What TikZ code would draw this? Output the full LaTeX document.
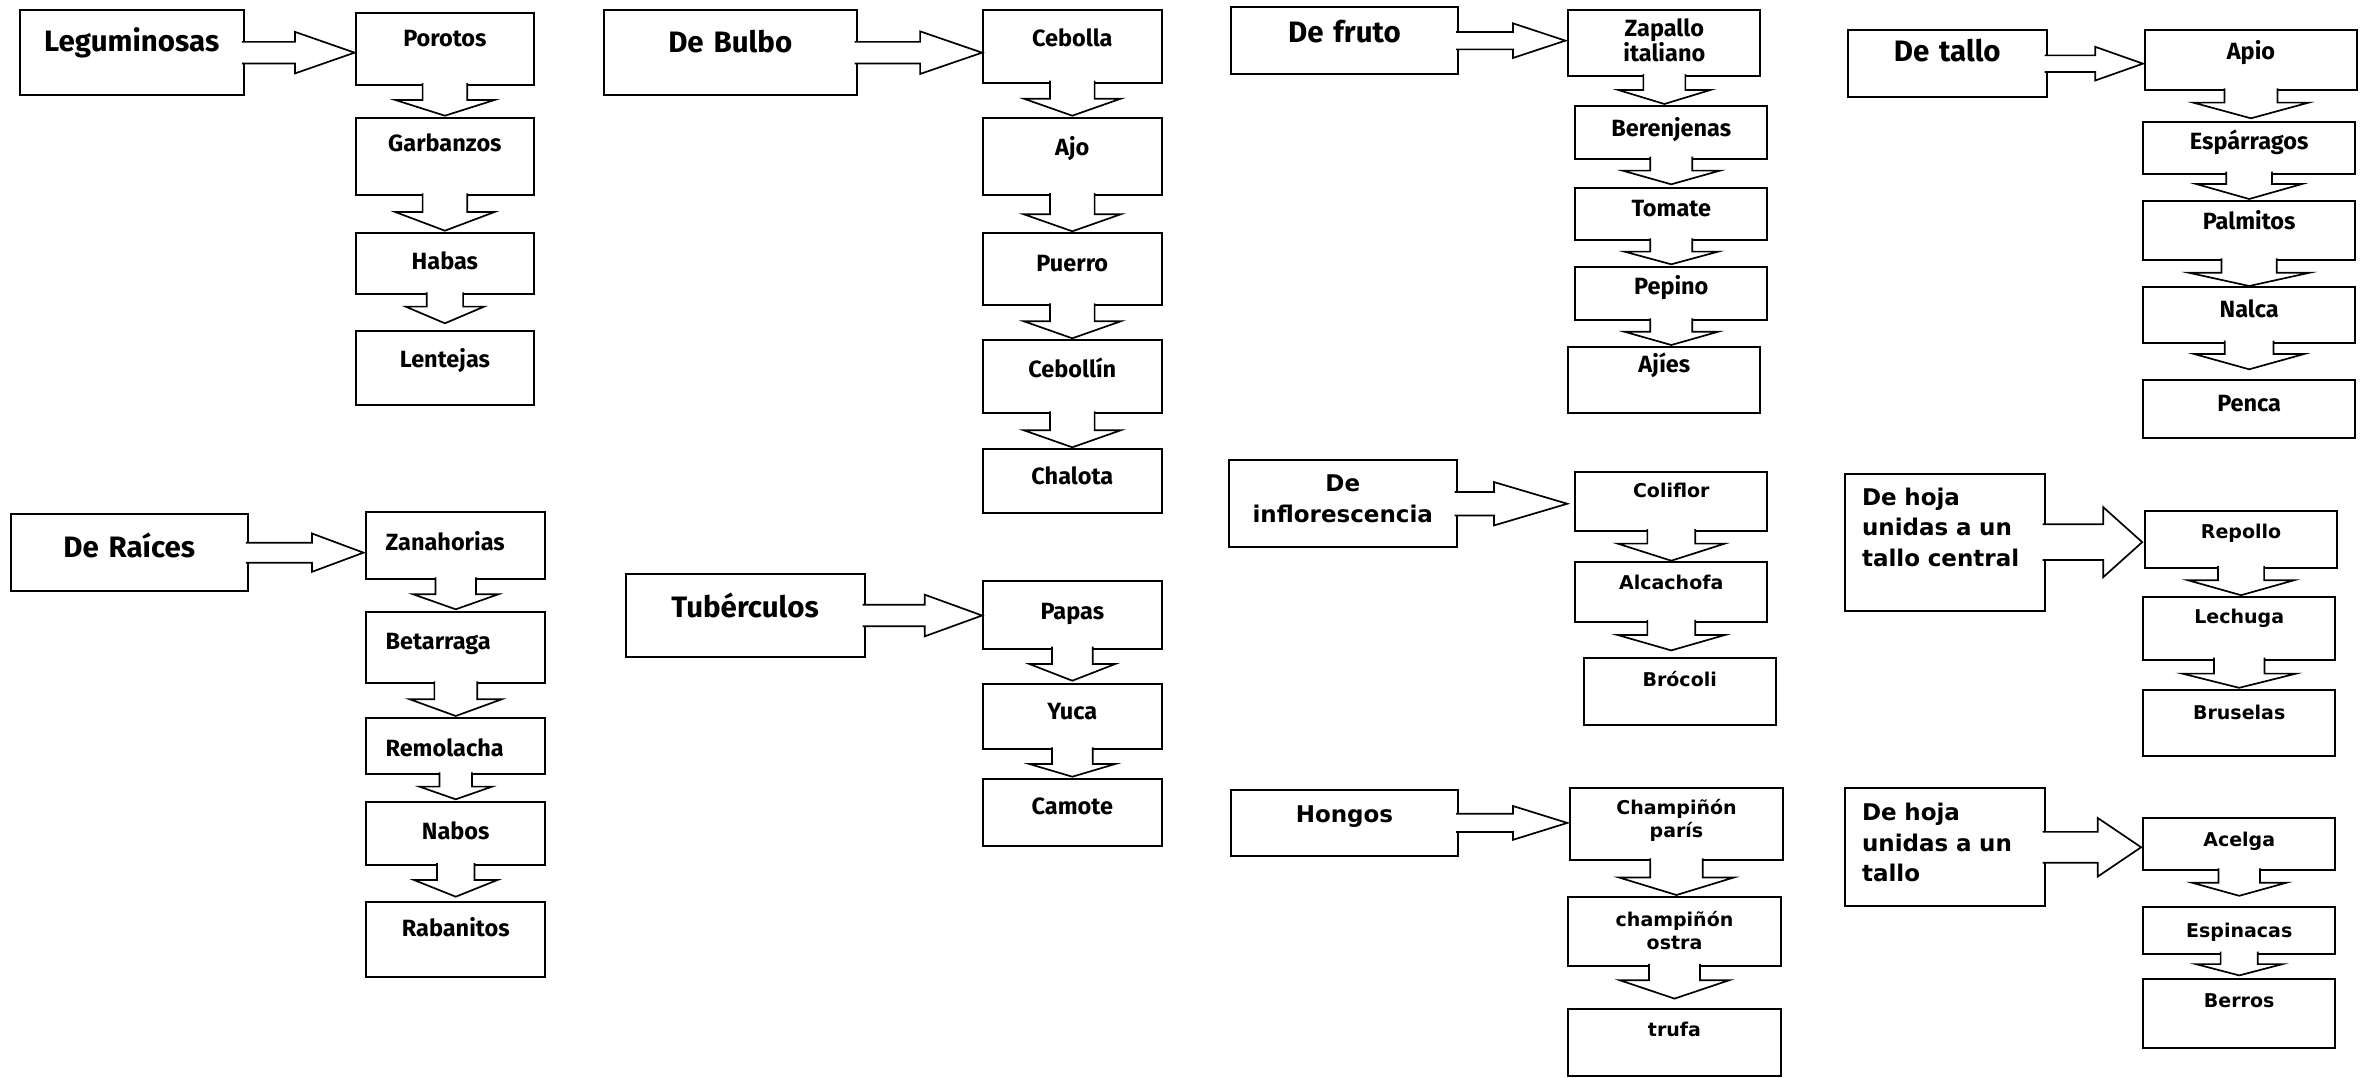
\documentclass[tikz,border=0pt]{standalone}
\usepackage{fontspec}
\newfontfamily\fira{Fira Sans}
\newfontfamily\dejav{DejaVu Sans}
\usetikzlibrary{calc}

\begin{document}
\begin{tikzpicture}[x=1pt, y=-1pt,
        box/.style n args={3}{% boxes: width, top to baseline, baseline to bottom
            draw,
            fill=white,
            line width=2pt,
            anchor=north west,
            inner sep=0pt,
            minimum width=#1pt,
            text width=#1pt,
            align=center,
            text height=#2pt,
            text depth=#3pt,
            },
        cat/.style={font=\fira\bfseries\fontsize{29.5}{32}\selectfont},
        itm/.style={font=\fira\bfseries\fontsize{23.5}{23.5}\selectfont},
        catv/.style={font=\dejav\bfseries\fontsize{23}{30.5}\selectfont},
        itmv/.style={font=\dejav\bfseries\fontsize{19}{23}\selectfont},
        shw/.store in=\shw, hdw/.store in=\hdw, hdl/.store in=\hdl, tgap/.store in=\tgap,
        shw=20pt, hdw=45pt, hdl=16pt, tgap=0pt,
        flow/.style={draw, fill=white, line width=1.7pt},
        hflow/.style={% block arrow to the right
            flow,
            to path={let \p1=(\tikztostart), \p2=(\tikztotarget) in
              (\x1-3pt,\y1+\shw) -- (\x2-\tgap-\hdl,\y1+\shw) -- (\x2-\tgap-\hdl,\y1+\hdw)
              -- (\x2-\tgap,\y1) -- (\x2-\tgap-\hdl,\y1-\hdw) -- (\x2-\tgap-\hdl,\y1-\shw)
              -- (\x1-3pt,\y1-\shw)},
            },
        vflow/.style={% block arrow downwards
            flow,
            to path={let \p1=(\tikztostart), \p2=(\tikztotarget) in
              (\x1-\shw,\y1+3pt) -- (\x1-\shw,\y2+\tgap+\hdl) -- (\x1-\hdw,\y2+\tgap+\hdl)
              -- (\x1,\y2+\tgap) -- (\x1+\hdw,\y2+\tgap+\hdl) -- (\x1+\shw,\y2+\tgap+\hdl)
              -- (\x1+\shw,\y1+3pt)},
            },
        ]
\useasboundingbox (0,0) rectangle (2366,1077);
% Leguminosas
\node [box={224.3}{40.7}{44}, cat] (lgm) at (18.6,9.3) {Leguminosas};
\node [box={178.6}{32.7}{39}, itm] (porotos) at (354.6,12.3) {Porotos};
\node [box={178.6}{33.3}{44.3}, itm] (garbanzos) at (354.6,116.7) {Garbanzos};
\node [box={178.6}{36}{25}, itm] (habas) at (354.6,232.3) {Habas};
\node [box={178.6}{36}{38.3}, itm] (lentejas) at (354.6,330) {Lentejas};
% De Bulbo
\node [box={252.7}{42.4}{42.3}, cat] (blb) at (602.9,9.3) {De Bulbo};
\node [box={178.4}{35.7}{36.6}, itm] (cebolla) at (982.1,9.3) {Cebolla};
\node [box={178.4}{37.3}{40}, itm] (ajo) at (982.1,116.7) {Ajo};
\node [box={178.4}{38.3}{33.7}, itm] (puerro) at (982.1,232.3) {Puerro};
\node [box={178.4}{37.3}{35.7}, itm] (cebollin) at (982.1,339.3) {Cebollín};
\node [box={178.4}{35}{28.4}, itm] (chalota) at (982.1,448.3) {Chalota};
% De Raices
\node [box={237.2}{42.7}{34}, cat] (rai) at (9.6,513.3) {De Raíces};
\node [box={178.7}{38.3}{29.3}, itm, text width=140.3pt, align=left] (zanahorias) at (365.4,510.7) {Zanahorias};
\node [box={178.7}{37.6}{34}, itm, text width=140.3pt, align=left] (betarraga) at (365.4,610.7) {Betarraga};
\node [box={178.7}{37.7}{18.3}, itm, text width=140.3pt, align=left] (remolacha) at (365.4,717.3) {Remolacha};
\node [box={178.7}{37.6}{25.7}, itm] (nabos) at (365.4,800.7) {Nabos};
\node [box={178.7}{34.3}{40.7}, itm] (rabanitos) at (365.4,900.7) {Rabanitos};
% Tuberculos
\node [box={238.8}{42.7}{39.7}, cat] (tub) at (624.7,573.3) {Tubérculos};
\node [box={178.4}{38.3}{29.4}, itm] (papas) at (982.1,580) {Papas};
\node [box={178.4}{35.6}{30}, itm] (yuca) at (982.1,682.7) {Yuca};
\node [box={178.4}{35.6}{31.7}, itm] (camote) at (982.1,777.7) {Camote};
% De fruto
\node [box={227.3}{35.7}{31.6}, cat] (fru) at (1229.8,6) {De fruto};
\node [box={192.1}{25.7}{40}, itm] (zapallo) at (1567.3,9.3) {Zapallo\\italiano};
\node [box={192.1}{30}{22.7}, itm] (berenjenas) at (1574.2,105) {Berenjenas};
\node [box={192.1}{28.3}{24.3}, itm] (tomate) at (1574.2,186.7) {Tomate};
\node [box={192.1}{27.3}{26}, itm] (pepino) at (1574.2,266) {Pepino};
\node [box={192.1}{25.7}{40.6}, itm] (ajies) at (1567.3,346) {Ajíes};
% De tallo
\node [box={198.6}{30.7}{36}, cat] (tal) at (1846.9,29.3) {De tallo};
\node [box={211.9}{29}{31}, itm] (apio) at (2144,29.3) {Apio};
\node [box={211.9}{27.7}{24.3}, itm] (esparragos) at (2142.2,120.7) {Espárragos};
\node [box={211.9}{28.3}{31}, itm] (palmitos) at (2142.2,200) {Palmitos};
\node [box={211.9}{30.7}{25}, itm] (nalca) at (2142.2,286) {Nalca};
\node [box={211.9}{30.7}{26.7}, itm] (penca) at (2142.2,379.3) {Penca};
% De inflorescencia
\node [box={227.7}{31.7}{55.6}, catv] (inf) at (1227.9,459.1) {De\\inflorescencia};
\node [box={192.1}{26.4}{33.3}, itmv] (coliflor) at (1574.2,470.5) {Coliflor};
\node [box={192.1}{27.2}{32.5}, itmv] (alcachofa) at (1574.2,561.1) {Alcachofa};
\node [box={192}{28.5}{37.8}, itmv] (brocoli) at (1582.7,657.3) {Brócoli};
% Hongos
\node [box={227.3}{33.3}{33.3}, catv] (hon) at (1229.8,788.6) {Hongos};
\node [box={212.3}{26.5}{45.5}, itmv] (champa) at (1569.3,787.3) {Champiñón\\parís};
\node [box={212.4}{29.7}{39.4}, itmv] (champb) at (1567.3,895.8) {champiñón\\ostra};
\node [box={212.4}{27.3}{39.7}, itmv] (trufa) at (1567.3,1007.9) {trufa};
% De hoja
\node [box={199.3}{31.7}{105.6}, catv, text width=166pt, align=left] (hjc) at (1844.4,472.5) {De hoja\\unidas a un\\tallo central};
\node [box={192}{27.6}{29.7}, itmv] (repollo) at (2144,509.9) {Repollo};
\node [box={192}{26.4}{35.8}, itmv] (lechuga) at (2142.2,596.4) {Lechuga};
\node [box={192}{29.3}{36.5}, itmv] (bruselas) at (2142.2,689) {Bruselas};
\node [box={199.3}{32.5}{85.4}, catv, text width=166pt, align=left] (hjt) at (1844.4,787.3) {De hoja\\unidas a un\\tallo};
\node [box={192}{28.4}{24}, itmv] (acelga) at (2142.2,817) {Acelga};
\node [box={192}{30.4}{16.3}, itmv] (espinacas) at (2142.2,906) {Espinacas};
\node [box={192}{28.4}{39.8}, itmv] (berros) at (2142.2,978.3) {Berros};
% Arrows
\draw[hflow, shw=10.8pt, hdw=20.8pt, hdl=59.7pt] (lgm.east) to (porotos.west);
\draw[vflow, shw=22.3pt, hdw=49.6pt, hdl=15.7pt, tgap=1pt] (porotos.south) to (garbanzos.north);
\draw[vflow, shw=22.3pt, hdw=49.6pt, hdl=18.7pt, tgap=1.6pt] (garbanzos.south) to (habas.north);
\draw[vflow, shw=18.2pt, hdw=39.3pt, hdl=16.7pt, tgap=6.7pt] (habas.south) to (lentejas.north);
\draw[hflow, shw=10.8pt, hdw=21.3pt, hdl=62pt] (blb.east) to (cebolla.west);
\foreach \a/\b in {cebolla/ajo, ajo/puerro, puerro/cebollin, cebollin/chalota}
  \draw[vflow, shw=22.3pt, hdw=48.4pt, hdl=17pt, tgap=1pt] (\a.south) to (\b.north);
\draw[hflow, shw=10pt, hdw=19.2pt, hdl=51.6pt, tgap=1.9pt] (rai.east) to (zanahorias.west);
\draw[vflow, shw=20.3pt, hdw=42.5pt, hdl=15pt, tgap=1.4pt] (zanahorias.south) to (betarraga.north);
\draw[vflow, shw=21.4pt, hdw=45.9pt, hdl=16.7pt, tgap=1.3pt] (betarraga.south) to (remolacha.north);
\draw[vflow, shw=16.3pt, hdw=36.4pt, hdl=12.7pt, tgap=1.4pt] (remolacha.south) to (nabos.north);
\draw[vflow, shw=18.8pt, hdw=41.7pt, hdl=16.7pt, tgap=4pt] (nabos.south) to (rabanitos.north);
\draw[hflow, shw=10.8pt, hdw=20.8pt, hdl=57.3pt] (tub.east) to (papas.west);
\draw[vflow, shw=20.4pt, hdw=42.9pt, hdl=16.7pt, tgap=2pt] (papas.south) to (yuca.north);
\draw[vflow, shw=20.4pt, hdw=42.9pt, hdl=12.7pt, tgap=1pt] (yuca.south) to (camote.north);
\draw[hflow, shw=8.7pt, hdw=17.3pt, hdl=52.4pt, tgap=1.9pt] (fru.east) to (zapallo.west);
\draw[vflow, shw=21pt, hdw=46pt, hdl=14pt, tgap=1pt] (zapallo.south) to (berenjenas.north);
\draw[vflow, shw=21pt, hdw=48.8pt, hdl=13.7pt, tgap=2.4pt] (berenjenas.south) to (tomate.north);
\draw[vflow, shw=21pt, hdw=47pt, hdl=12.7pt, tgap=1.7pt] (tomate.south) to (pepino.north);
\draw[vflow, shw=21pt, hdw=47pt, hdl=13.3pt, tgap=1pt] (pepino.south) to (ajies.north);
\draw[hflow, shw=8.3pt, hdw=16.8pt, hdl=47.6pt, tgap=1.1pt] (tal.east) to (apio.west);
\draw[vflow, shw=26.5pt, hdw=57.8pt, hdl=15.7pt, tgap=2.4pt] (apio.south) to (esparragos.north);
\draw[vflow, shw=22.9pt, hdw=52.9pt, hdl=15pt, tgap=1pt] (esparragos.south) to (palmitos.north);
\draw[vflow, shw=27.6pt, hdw=60.5pt, hdl=13.3pt] (palmitos.south) to (nalca.north);
\draw[vflow, shw=24.4pt, hdw=55pt, hdl=15.3pt, tgap=10pt] (nalca.south) to (penca.north);
\draw[hflow, shw=11.8pt, hdw=21.7pt, hdl=73.4pt, tgap=6.9pt] (inf.east) to (coliflor.west);
\draw[vflow, shw=23.9pt, hdw=53.6pt, hdl=17.1pt, tgap=0.4pt] (coliflor.south) to (alcachofa.north);
\draw[vflow, shw=23.9pt, hdw=53.6pt, hdl=15.4pt, tgap=6.9pt] (alcachofa.south) to (brocoli.north);
\draw[hflow, shw=9.15pt, hdw=16.9pt, hdl=54.3pt, tgap=2pt] (hon.east) to (champa.west);
\draw[vflow, shw=26.2pt, hdw=57.4pt, hdl=17.5pt, tgap=0.8pt] (champa.south) to (champb.north);
\draw[vflow, shw=25.5pt, hdw=54.5pt, hdl=18.3pt, tgap=9.3pt] (champb.south) to (trufa.north);
\draw[hflow, shw=17.9pt, hdw=35pt, hdl=39pt, tgap=1.8pt] (hjc.east) to (repollo.west);
\draw[vflow, shw=23.1pt, hdw=53.2pt, hdl=15pt, tgap=1.2pt] (repollo.south) to (lechuga.north);
\draw[vflow, shw=25.25pt, hdw=56.9pt, hdl=14.2pt, tgap=1.2pt] (lechuga.south) to (bruselas.north);
\draw[hflow, shw=15.4pt, hdw=29.25pt, hdl=43.3pt, tgap=1.1pt] (hjt.east) to (acelga.west);
\draw[vflow, shw=20.8pt, hdw=46.9pt, hdl=13pt, tgap=10.2pt] (acelga.south) to (espinacas.north);
\draw[vflow, shw=18.6pt, hdw=43.3pt, hdl=11.3pt, tgap=2.9pt] (espinacas.south) to (berros.north);
\end{tikzpicture}
\end{document}
